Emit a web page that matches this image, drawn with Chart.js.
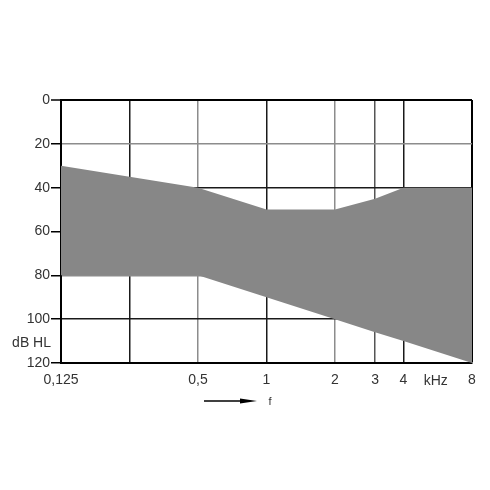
<!DOCTYPE html>
<html>
<head>
<meta charset="utf-8">
<script src="https://cdn.jsdelivr.net/npm/chart.js@4"></script>
<style>
  html, body { margin: 0; padding: 0; background: #fff; }
  #wrap { width: 490px; height: 490px; }
</style>
</head>
<body>
<div id="wrap"><canvas id="audiogram" width="490" height="490"></canvas></div>
<script>
// Frequencies (kHz) and hearing levels (dB HL) of the shaded band
const upperFreqs = [0.125, 0.25, 0.5, 1, 2, 3, 4, 8];
const upperLevels = [30, 35, 40, 50, 50, 45, 40, 40];
const lowerFreqs = [0.125, 0.5, 1, 2, 3, 4, 8];
const lowerLevels = [80, 80, 90, 100, 106, 110, 120];

// Axis ticks
const freqTicks = [0.125, 0.25, 0.5, 1, 2, 3, 4, 8];
const freqLabels = ['0,125', '', '0,5', '1', '2', '3', '4', '8'];
const levelTicks = [0, 20, 40, 60, 80, 100, 120];

const FONT = 'Liberation Sans, Arial, sans-serif';

function toPoints(xs, ys) {
  return xs.map((x, i) => ({ x: x, y: ys[i] }));
}

// Extra texts: "dB HL", "kHz", arrow and "f"
const extraText = {
  id: 'extraText',
  afterDraw(chart) {
    const ctx = chart.ctx;
    const x = chart.scales.x;
    const y = chart.scales.y;
    ctx.save();
    ctx.fillStyle = '#333';
    ctx.font = '14px ' + FONT;
    ctx.textAlign = 'right';
    ctx.textBaseline = 'middle';
    ctx.fillText('dB HL', 51, (y.getPixelForValue(100) + y.getPixelForValue(120)) / 2 + 2);

    ctx.textAlign = 'center';
    const labelY = y.bottom + 18;
    const kx = (x.getPixelForValue(4) + x.getPixelForValue(8)) / 2 - 2;
    ctx.fillText('kHz', kx, labelY);

    // arrow pointing to "f"
    const ay = y.bottom + 38;
    ctx.strokeStyle = '#000';
    ctx.lineWidth = 1.5;
    ctx.beginPath();
    ctx.moveTo(204, ay);
    ctx.lineTo(244, ay);
    ctx.stroke();
    ctx.fillStyle = '#000';
    ctx.beginPath();
    ctx.moveTo(257, ay);
    ctx.lineTo(240, ay - 2.5);
    ctx.lineTo(240, ay + 2.5);
    ctx.closePath();
    ctx.fill();
    ctx.fillStyle = '#333';
    ctx.font = '11px ' + FONT;
    ctx.fillText('f', 270, ay + 1);
    ctx.restore();
  }
};

const darkX = [0.25, 1, 4];
const darkY = [40, 60, 100];

new Chart(document.getElementById('audiogram'), {
  type: 'line',
  data: {
    datasets: [
      {
        data: toPoints(upperFreqs, upperLevels),
        borderWidth: 0,
        pointRadius: 0,
        backgroundColor: '#878787',
        fill: '+1'
      },
      {
        data: toPoints(lowerFreqs, lowerLevels),
        borderWidth: 0,
        pointRadius: 0,
        fill: false
      }
    ]
  },
  options: {
    responsive: false,
    animation: false,
    layout: { padding: { top: 100, right: 18, bottom: 97, left: 0 } },
    plugins: {
      legend: { display: false },
      tooltip: { enabled: false }
    },
    scales: {
      x: {
        type: 'logarithmic',
        min: 0.125,
        max: 8,
        z: 1,
        afterBuildTicks(scale) {
          scale.ticks = freqTicks.map(v => ({ value: v }));
        },
        afterFit(scale) { scale.height = 30; },
        ticks: {
          autoSkip: false,
          maxRotation: 0,
          padding: 9,
          color: '#333',
          font: { family: FONT, size: 14 },
          callback(value) {
            const i = freqTicks.indexOf(value);
            return i >= 0 ? freqLabels[i] : '';
          }
        },
        grid: {
          drawTicks: false,
          color(c) {
            const v = c.tick && c.tick.value;
            if (v === 8) return '#000';
            if (darkX.includes(v)) return '#1a1a1a';
            if (v === 3) return '#555';
            return '#8c8c8c';
          },
          lineWidth(c) {
            const v = c.tick && c.tick.value;
            return v === 8 ? 2 : 1.5;
          }
        },
        border: { display: true, color: '#000', width: 2 }
      },
      y: {
        type: 'linear',
        reverse: true,
        min: 0,
        max: 120,
        z: 1,
        afterBuildTicks(scale) {
          scale.ticks = levelTicks.map(v => ({ value: v }));
        },
        afterFit(scale) { scale.width = 61; },
        ticks: {
          padding: 1,
          color: '#333',
          font: { family: FONT, size: 14 }
        },
        grid: {
          drawTicks: true,
          tickLength: 10,
          tickColor: '#000',
          tickWidth: 1.5,
          color(c) {
            const v = c.tick && c.tick.value;
            if (v === 0) return '#000';
            if (darkY.includes(v)) return '#1a1a1a';
            return '#8c8c8c';
          },
          lineWidth(c) {
            const v = c.tick && c.tick.value;
            return v === 0 ? 2 : 1.5;
          }
        },
        border: { display: true, color: '#000', width: 2 }
      }
    }
  },
  plugins: [extraText]
});
</script>
</body>
</html>
